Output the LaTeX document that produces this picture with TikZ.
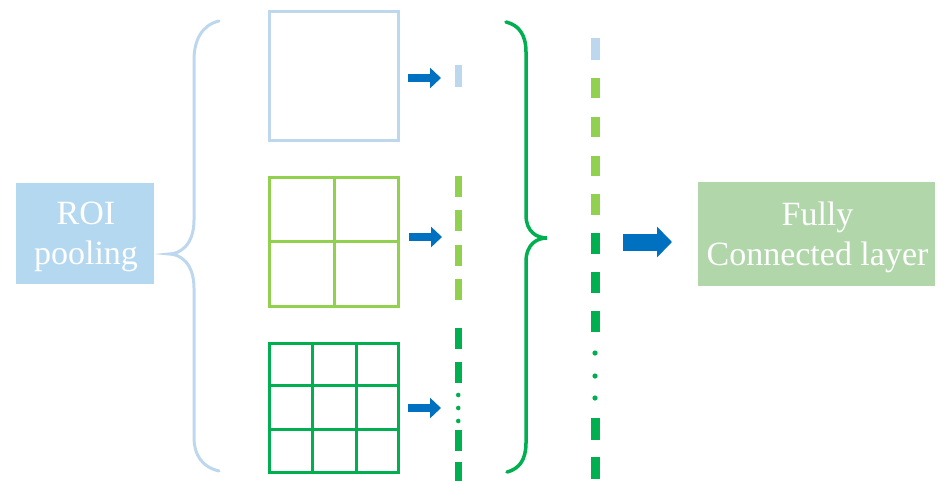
\documentclass[tikz,border=0pt]{standalone}
\usepackage{fontspec}
\setmainfont{Liberation Serif}
\usetikzlibrary{arrows.meta,calc}
\definecolor{lblue}{RGB}{189,215,238}
\definecolor{boxblue}{RGB}{180,216,240}
\definecolor{lgreen}{RGB}{146,208,80}
\definecolor{dgreen}{RGB}{0,176,80}
\definecolor{arrblue}{RGB}{0,112,192}
\definecolor{boxgreen}{RGB}{176,214,170}
\tikzset{
  plainbox/.style={draw=none, inner sep=0pt},
  labeltext/.style={inner sep=0pt, text=white, align=center,
    font=\fontsize{34}{40}\selectfont},
  gridsq/.style={draw, line width=3pt, minimum size=129pt, inner sep=0pt},
  smallarrow/.style={arrblue, line width=8pt, -{Triangle[width=20pt,length=11pt]}},
  bigarrow/.style={arrblue, line width=17pt, -{Triangle[width=30pt,length=15pt]}},
}
\begin{document}
\begin{tikzpicture}[x=1pt,y=-1pt]
\useasboundingbox (0,0) rectangle (945,480);
% boxes
\node[plainbox, fill=boxblue, minimum width=138pt, minimum height=101pt] (roi) at (85,233.5) {};
\node[labeltext] (roitext) at ($(roi.center)+(1,3.5)$) {ROI\\pooling};
\node[plainbox, fill=boxgreen, minimum width=237pt, minimum height=104pt] (fc) at (816.5,234) {};
\node[labeltext] (fctext) at ($(fc.center)+(1,3.5)$) {Fully\\Connected layer};
% left brace
\draw[lblue, line width=3pt, line cap=round]
  (219,21) .. controls (202,25) and (194,40) .. (194,60) -- (194,220)
  .. controls (194,245) and (180,254) .. (169,254)
  .. controls (180,254) and (194,263) .. (194,288) -- (194,437)
  .. controls (194,455) and (202,467) .. (219,471);
% squares
\node[gridsq, draw=lblue] (s1) at (333.5,75.5) {};
\node[gridsq, draw=lgreen] (s2) at (334,241.5) {};
\node[gridsq, draw=dgreen] (s3) at (334,407.5) {};
\draw[lgreen, line width=3pt] (s2.north) -- (s2.south) (s2.west) -- (s2.east);
\draw[dgreen, line width=3pt]
  ($(s3.north west)!1/3!(s3.north east)$) -- ($(s3.south west)!1/3!(s3.south east)$)
  ($(s3.north west)!2/3!(s3.north east)$) -- ($(s3.south west)!2/3!(s3.south east)$)
  ($(s3.north west)!1/3!(s3.south west)$) -- ($(s3.north east)!1/3!(s3.south east)$)
  ($(s3.north west)!2/3!(s3.south west)$) -- ($(s3.north east)!2/3!(s3.south east)$);
% small arrows
\coordinate (a1s) at (408,78); \coordinate (a1e) at (441,78);
\coordinate (a2s) at (409,237); \coordinate (a2e) at (442,237);
\coordinate (a3s) at (408,408); \coordinate (a3e) at (441,408);
\draw[smallarrow] (a1s) -- (a1e);
\draw[smallarrow] (a2s) -- (a2e);
\draw[smallarrow] (a3s) -- (a3e);
% column 1
\fill[lblue] (454.5,65) rectangle (462,87);
\foreach \a/\b in {176/197,210/231,245/266,279/300}
  \fill[lgreen] (454.5,\a) rectangle (462,\b);
\foreach \a/\b in {328/349,362/383,430/451,462/483}
  \fill[dgreen] (454.5,\a) rectangle (462,\b);
\foreach \y in {395,408,421}
  \fill[dgreen] (458.25,\y) circle (2.3pt);
% right brace
\draw[dgreen, line width=3.5pt, line cap=round]
  (506,22) .. controls (519,25) and (526,35) .. (526,52) -- (526,215)
  .. controls (526,232) and (537,238) .. (547,238)
  .. controls (537,238) and (526,244) .. (526,262) -- (526,443)
  .. controls (526,460) and (519,469) .. (507,472);
% column 2
\fill[lblue] (590.5,38) rectangle (599.5,60);
\foreach \a/\b in {78/98,117/137,156/176,194/215}
  \fill[lgreen] (590.5,\a) rectangle (599.5,\b);
\foreach \a/\b in {233/254,272/293,311/332,418/440,457/479}
  \fill[dgreen] (590.5,\a) rectangle (599.5,\b);
\foreach \y in {353,376,398}
  \fill[dgreen] (595,\y) circle (2.6pt);
% big arrow
\coordinate (bas) at (623,242); \coordinate (bae) at (672,242);
\draw[bigarrow] (bas) -- (bae);
\end{tikzpicture}
\end{document}
